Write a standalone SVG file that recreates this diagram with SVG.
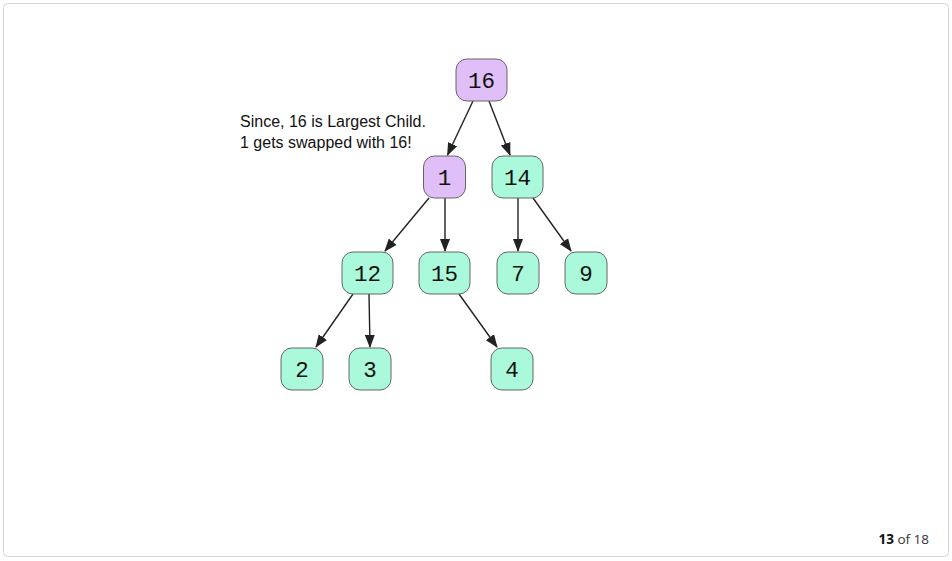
<svg xmlns="http://www.w3.org/2000/svg" width="952" height="561" viewBox="0 0 952 561">
<style>
.n rect{stroke:#666;stroke-width:1;}
.p rect{fill:#e0bef7;}
.g rect{fill:#aaf9da;}
.n text{font-family:"Liberation Mono",monospace;font-size:22.5px;text-anchor:middle;fill:#111;}
.e line{stroke:#222;stroke-width:1.4;marker-end:url(#ah);}
.lbl{font-family:"Liberation Sans",Arial,sans-serif;font-size:16px;fill:#111;}
</style>
<defs>
<marker id="ah" markerWidth="13" markerHeight="11" refX="12" refY="5" orient="auto" markerUnits="userSpaceOnUse" viewBox="0 0 13 10">
<path d="M0,0 L13,5 L0,10 z" fill="#222"/>
</marker>
</defs>
<rect x="3.5" y="3.5" width="945" height="553" rx="4" fill="#fff" stroke="#d4d4d4"/>
<g class="e" id="edges">
<line x1="473" y1="101" x2="447.5" y2="155"/>
<line x1="489" y1="101" x2="510" y2="155"/>
<line x1="429" y1="198" x2="385" y2="251"/>
<line x1="445" y1="198" x2="445" y2="251"/>
<line x1="518" y1="198" x2="518" y2="251"/>
<line x1="533" y1="198" x2="571" y2="251"/>
<line x1="353" y1="294" x2="316" y2="347"/>
<line x1="369" y1="294" x2="370" y2="347"/>
<line x1="459" y1="294" x2="497" y2="347"/>
</g>
<g id="n16" class="n p"><rect x="456" y="59" width="51" height="42" rx="11"/><text x="481.5" y="88">16</text></g>
<g id="n1" class="n p"><rect x="423.5" y="156" width="42" height="42" rx="11"/><text x="444.5" y="185">1</text></g>
<g id="n14" class="n g"><rect x="492" y="156" width="51" height="42" rx="11"/><text x="517.5" y="185">14</text></g>
<g id="n12" class="n g"><rect x="342" y="252" width="51" height="42" rx="11"/><text x="367.5" y="281">12</text></g>
<g id="n15" class="n g"><rect x="419" y="252" width="51" height="42" rx="11"/><text x="444.5" y="281">15</text></g>
<g id="n7" class="n g"><rect x="497" y="252" width="42" height="42" rx="11"/><text x="518" y="281">7</text></g>
<g id="n9" class="n g"><rect x="565" y="252" width="42" height="42" rx="11"/><text x="586" y="281">9</text></g>
<g id="n2" class="n g"><rect x="281" y="348" width="42" height="42" rx="11"/><text x="302" y="377">2</text></g>
<g id="n3" class="n g"><rect x="349" y="348" width="42" height="42" rx="11"/><text x="370" y="377">3</text></g>
<g id="n4" class="n g"><rect x="491" y="348" width="42" height="42" rx="11"/><text x="512" y="377">4</text></g>
<g id="note">
<text class="lbl" x="240" y="127">Since, 16 is Largest Child.</text>
<text class="lbl" x="240" y="148">1 gets swapped with 16!</text>
</g>
<text x="929" y="544" text-anchor="end" style="font-family:'Open Sans','Liberation Sans',sans-serif;font-size:13.5px;fill:#333;"><tspan font-weight="bold" fill="#111">13</tspan> of 18</text>
</svg>
